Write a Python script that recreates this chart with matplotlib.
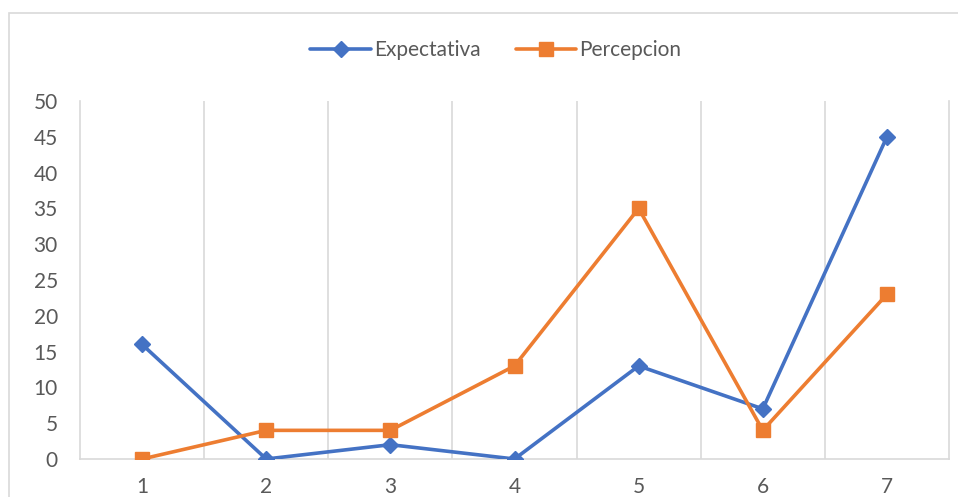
import matplotlib.pyplot as plt
from matplotlib.patches import Rectangle

categories = ["1", "2", "3", "4", "5", "6", "7"]
expectativa = [16, 0, 2, 0, 13, 7, 45]
percepcion = [0, 4, 4, 13, 35, 4, 23]
y_ticks = [0, 5, 10, 15, 20, 25, 30, 35, 40, 45, 50]

plt.rcParams['font.family'] = ['Lato', 'DejaVu Sans']

fig = plt.figure(figsize=(9.58, 4.97), dpi=100)
fig.patch.set_facecolor('white')

# outer chart frame
fig.add_artist(Rectangle((9 / 958, -0.1), 1.2, 1 - 13 / 497 + 0.1,
                         transform=fig.transFigure, fill=False,
                         edgecolor='#d9d9d9', linewidth=1.2))

ax = fig.add_axes([80 / 958, 1 - 459 / 497, (949 - 80) / 958, (459 - 101) / 497])

x = list(range(len(categories)))
blue = '#4472c4'
orange = '#ed7d31'
ax.plot(x, expectativa, color=blue, linewidth=2.6, marker='D', markersize=8.5,
        label='Expectativa', solid_capstyle='round', zorder=3)
ax.plot(x, percepcion, color=orange, linewidth=2.6, marker='s', markersize=10.5,
        label='Percepcion', solid_capstyle='round', zorder=3)

ax.set_xlim(-0.5, len(categories) - 0.5)
ax.set_ylim(0, 50)
ax.set_yticks(y_ticks)
ax.set_xticks(x)
ax.set_xticklabels(categories)

# vertical gridlines at category boundaries
for b in range(1, len(categories)):
    ax.axvline(b - 0.5, color='#d9d9d9', linewidth=1.2, zorder=1)

ax.spines['top'].set_visible(False)
for side in ['left', 'right', 'bottom']:
    ax.spines[side].set_color('#d9d9d9')
    ax.spines[side].set_linewidth(1.2)

ax.tick_params(axis='both', length=0, labelsize=15, colors='#595959')
ax.tick_params(axis='y', pad=16)
ax.tick_params(axis='x', pad=13)

leg = fig.legend(loc='center', bbox_to_anchor=(496 / 958, 1 - 50 / 497), ncol=2,
                 frameon=False, fontsize=15, handlelength=2.9, columnspacing=1.7,
                 handletextpad=0.15)
for t in leg.get_texts():
    t.set_color('#595959')

fig.savefig('out.png', dpi=100)
